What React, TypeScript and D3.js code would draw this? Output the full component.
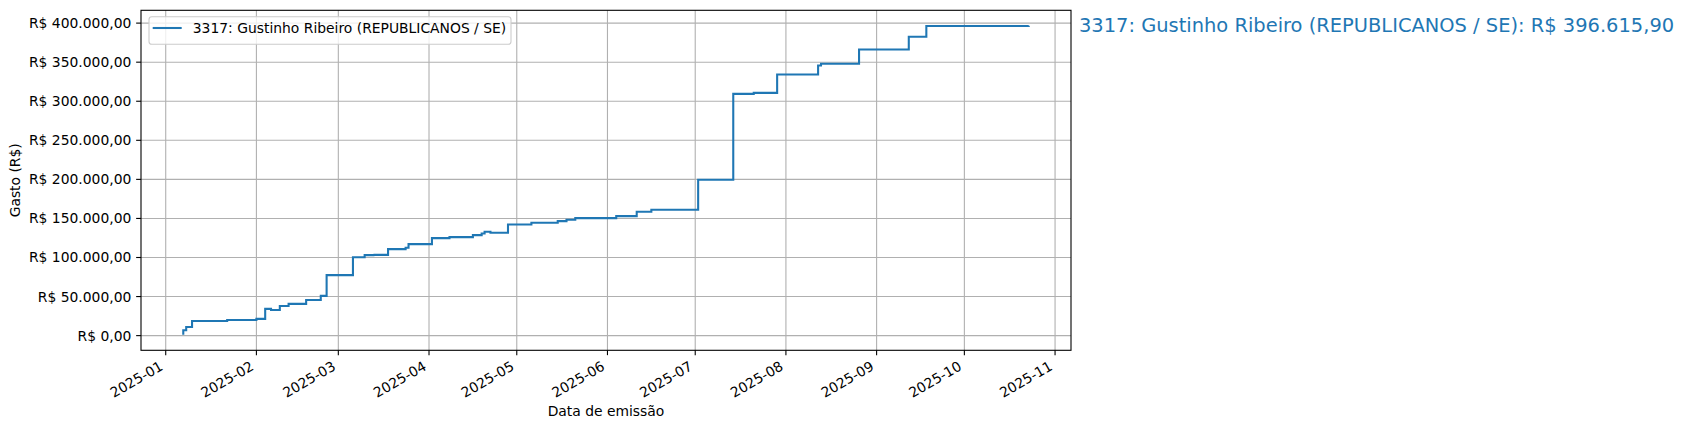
import React from 'react';
import * as d3 from 'd3';

// Cumulative spending (step plot, "post")
const dates = [
  '2025-01-07', '2025-01-07', '2025-01-08', '2025-01-10', '2025-01-22',
  '2025-02-01', '2025-02-04', '2025-02-06', '2025-02-09', '2025-02-12',
  '2025-02-18', '2025-02-23', '2025-02-25', '2025-03-06', '2025-03-10',
  '2025-03-13', '2025-03-13', '2025-03-18', '2025-03-24', '2025-03-25',
  '2025-04-02', '2025-04-08', '2025-04-16', '2025-04-19', '2025-04-20',
  '2025-04-22', '2025-04-28', '2025-05-06', '2025-05-15', '2025-05-18',
  '2025-05-21', '2025-06-04', '2025-06-11', '2025-06-16', '2025-07-02',
  '2025-07-14', '2025-07-21', '2025-07-29', '2025-08-12', '2025-08-13',
  '2025-08-26', '2025-09-12', '2025-09-18', '2025-10-23',
];
const totals = [
  1000, 6800, 11100, 18800, 20100,
  21400, 34200, 32900, 38000, 40600,
  45700, 50900, 77400, 100400, 103000,
  104300, 103400, 110700, 112400, 117100,
  124800, 126100, 128600, 130800, 132900,
  131600, 142300, 144500, 146600, 148300,
  150400, 153000, 158500, 161100, 199600,
  309400, 310700, 334200, 345700, 347900,
  366300, 382500, 396400, 396615.9,
];
const seriesName = '3317: Gustinho Ribeiro (REPUBLICANOS / SE)';
const yTicks = [0, 50000, 100000, 150000, 200000, 250000, 300000, 350000, 400000];
const xTickMonths = ['2025-01', '2025-02', '2025-03', '2025-04', '2025-05', '2025-06',
  '2025-07', '2025-08', '2025-09', '2025-10', '2025-11'];

const W = 1685;
const H = 430;
const left = 141;
const right = 1071;
const top = 10.3;
const bottom = 350.3;
const blue = '#1f77b4';
const font = 'DejaVu Sans, sans-serif';
const fs = 13.89;

const brl = d3.formatLocale({ decimal: ',', thousands: '.', grouping: [3], currency: ['R$ ', ''] });
const money = brl.format('$,.2f');

export default function App() {
  const pts = dates.map((d, i) => ({ date: new Date(d + 'T00:00:00Z'), v: totals[i] }));

  const [x0, x1] = d3.extent(pts, p => p.date.getTime()) as [number, number];
  const xPad = (x1 - x0) * 0.05;
  const x = d3.scaleUtc().domain([new Date(x0 - xPad), new Date(x1 + xPad)]).range([left, right]);

  const [y0, y1] = d3.extent(pts, p => p.v) as [number, number];
  const yPad = (y1 - y0) * 0.05;
  const y = d3.scaleLinear().domain([y0 - yPad, y1 + yPad]).range([bottom, top]);

  const line = d3.line<{ date: Date; v: number }>()
    .x(p => x(p.date))
    .y(p => y(p.v))
    .curve(d3.curveStepAfter);

  const xTicks = xTickMonths.map(m => new Date(m + '-01T00:00:00Z'));
  const last = pts[pts.length - 1];

  return (
    <svg width={W} height={H} style={{ position: 'absolute', left: 0, top: 0, background: '#fff' }}
      fontFamily={font}>
      {/* grid */}
      <g stroke="#b0b0b0" strokeWidth={1.1}>
        {xTicks.map((t, i) => (
          <line key={'gx' + i} x1={x(t)} x2={x(t)} y1={top} y2={bottom} />
        ))}
        {yTicks.map((t, i) => (
          <line key={'gy' + i} x1={left} x2={right} y1={y(t)} y2={y(t)} />
        ))}
      </g>

      <path d={line(pts) || ''} fill="none" stroke={blue} strokeWidth={2.08} />

      {/* frame */}
      <rect x={left} y={top} width={right - left} height={bottom - top} fill="none" stroke="#000" strokeWidth={1.1} />

      {/* y axis */}
      {yTicks.map((t, i) => (
        <g key={'yt' + i}>
          <line x1={left - 4.86} x2={left} y1={y(t)} y2={y(t)} stroke="#000" strokeWidth={1.1} />
          <text x={left - 9.7} y={y(t)} textAnchor="end" dominantBaseline="central" fontSize={fs}>
            {money(t)}
          </text>
        </g>
      ))}

      {/* x axis */}
      {xTicks.map((t, i) => (
        <g key={'xt' + i}>
          <line x1={x(t)} x2={x(t)} y1={bottom} y2={bottom + 4.86} stroke="#000" strokeWidth={1.1} />
          <text transform={`translate(${x(t) - 1.7},${bottom + 9.7 + 9.1}) rotate(-30)`}
            textAnchor="end" fontSize={fs}>
            {xTickMonths[i]}
          </text>
        </g>
      ))}

      <text x={(left + right) / 2} y={416} textAnchor="middle" fontSize={fs}>Data de emissão</text>
      <text transform={`translate(20,${(top + bottom) / 2}) rotate(-90)`} textAnchor="middle" fontSize={fs}>
        Gasto (R$)
      </text>

      {/* legend */}
      <g>
        <rect x={149} y={16.7} width={362} height={27.5} rx={2.8} fill="#fff" fillOpacity={0.8}
          stroke="#cccccc" strokeWidth={1.1} />
        <line x1={152.7} x2={181.7} y1={28} y2={28} stroke={blue} strokeWidth={2.08} />
        <text x={192.8} y={28} dominantBaseline="central" fontSize={fs}>{seriesName}</text>
      </g>

      {/* end label */}
      <text x={right + 8} y={y(last.v)} dominantBaseline="central" fontSize={19.44} fill={blue}>
        {`${seriesName}: ${money(last.v)}`}
      </text>
    </svg>
  );
}
